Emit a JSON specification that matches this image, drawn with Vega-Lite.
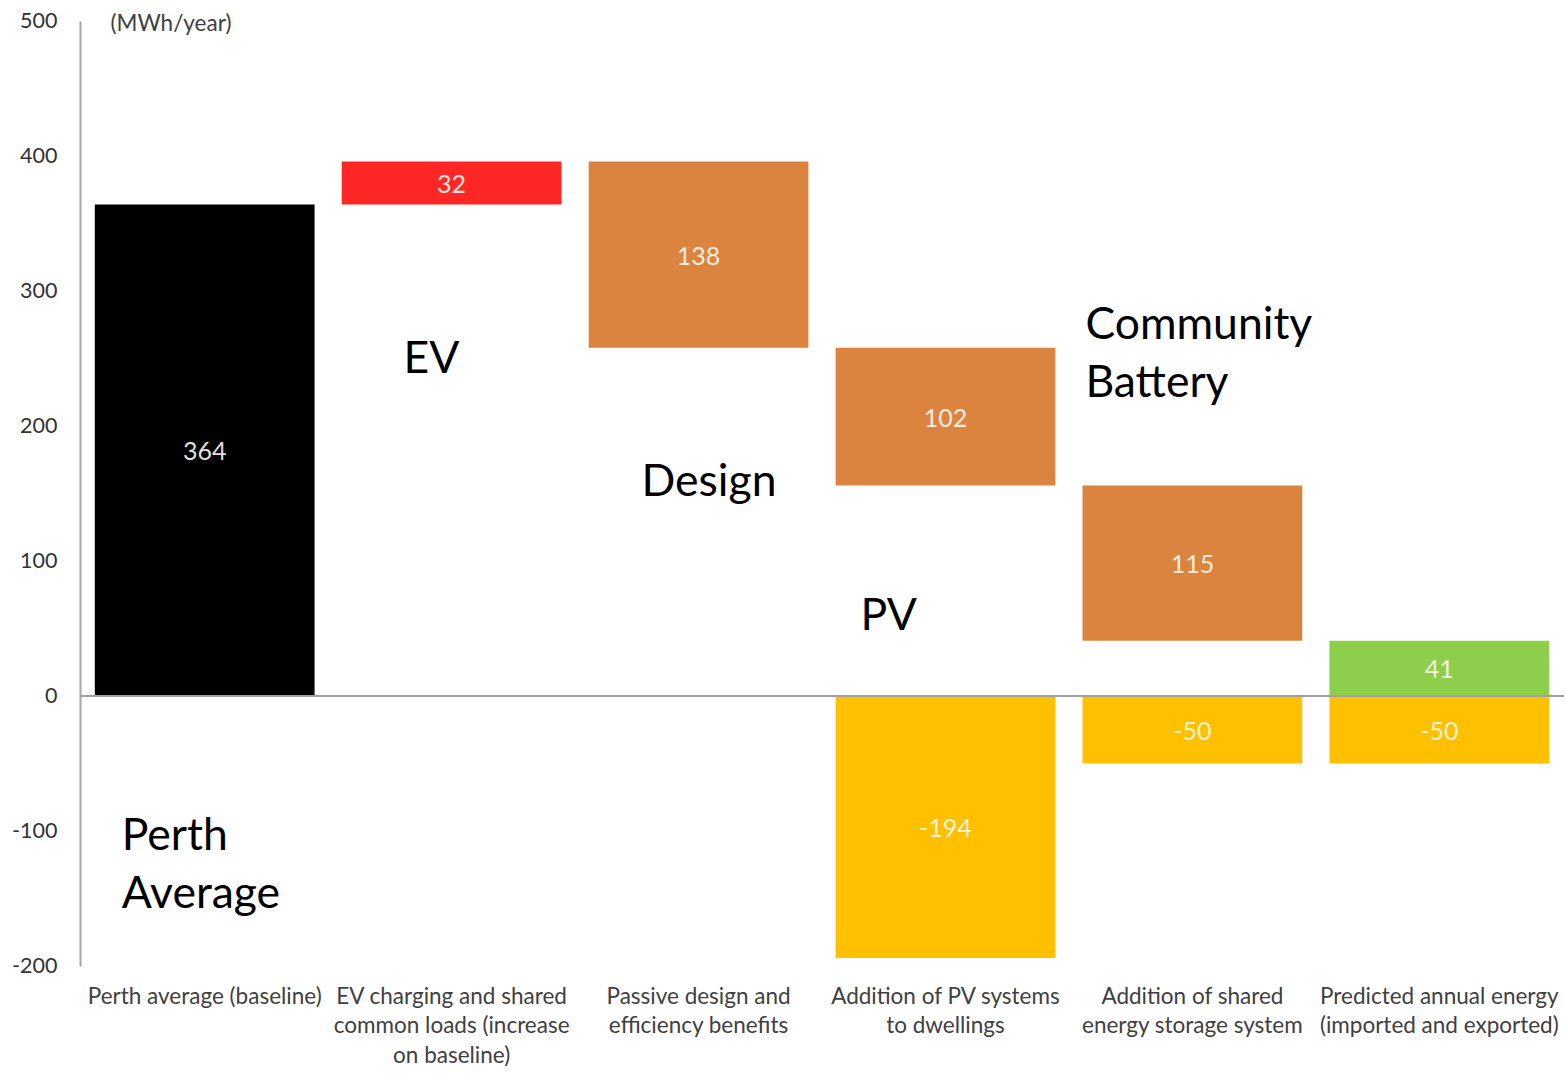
{
  "$schema": "https://vega.github.io/schema/vega-lite/v6.json",
  "width": 1484,
  "height": 945,
  "autosize": "none",
  "padding": {"left": 80, "top": 21, "right": 1, "bottom": 111},
  "background": "white",
  "config": {
    "view": {"stroke": null},
    "font": "Lato",
    "text": {"font": "Lato"}
  },
  "datasets": {
    "bars": [
      {"cat": "Perth average (baseline)", "start": 0, "end": 364, "type": "baseline", "label": "364"},
      {"cat": "EV charging and shared|common loads (increase|on baseline)", "start": 364, "end": 396, "type": "increase", "label": "32"},
      {"cat": "Passive design and|efficiency benefits", "start": 258, "end": 396, "type": "reduction", "label": "138"},
      {"cat": "Addition of PV systems|to dwellings", "start": 156, "end": 258, "type": "reduction", "label": "102"},
      {"cat": "Addition of PV systems|to dwellings", "start": -194, "end": 0, "type": "generation", "label": "-194"},
      {"cat": "Addition of shared|energy storage system", "start": 41, "end": 156, "type": "reduction", "label": "115"},
      {"cat": "Addition of shared|energy storage system", "start": -50, "end": 0, "type": "generation", "label": "-50"},
      {"cat": "Predicted annual energy|(imported and exported)", "start": 0, "end": 41, "type": "net", "label": "41"},
      {"cat": "Predicted annual energy|(imported and exported)", "start": -50, "end": 0, "type": "generation", "label": "-50"}
    ]
  },
  "encoding": {
    "x": {
      "field": "cat",
      "type": "nominal",
      "sort": null,
      "scale": {
        "domain": [
          "Perth average (baseline)",
          "EV charging and shared|common loads (increase|on baseline)",
          "Passive design and|efficiency benefits",
          "Addition of PV systems|to dwellings",
          "Addition of shared|energy storage system",
          "Predicted annual energy|(imported and exported)"
        ],
        "paddingInner": 0.11,
        "paddingOuter": 0.06
      },
      "axis": {
        "title": null,
        "labelAngle": 0,
        "labelExpr": "split(datum.label, '|')",
        "labelFontSize": 22.5,
        "labelLineHeight": 29.5,
        "labelPadding": 19,
        "labelColor": "#404040",
        "labelFont": "Lato",
        "labelLimit": 0,
        "labelBaseline": "top",
        "domain": false,
        "ticks": false
      }
    }
  },
  "layer": [
    {
      "data": {"name": "bars"},
      "mark": {"type": "bar"},
      "encoding": {
        "y": {
          "field": "start",
          "type": "quantitative",
          "scale": {"domain": [-200, 500], "nice": false},
          "axis": {
            "title": "(MWh/year)",
            "titleAngle": 0,
            "titleX": 30,
            "titleY": 2,
            "titleAlign": "left",
            "titleBaseline": "middle",
            "titleFontSize": 22.5,
            "titleFontWeight": "normal",
            "titleColor": "#404040",
            "titleFont": "Lato",
            "values": [-200, -100, 0, 100, 200, 300, 400, 500],
            "labelExpr": "'' + datum.value",
            "grid": false,
            "ticks": false,
            "domainColor": "#a6a6a6",
            "domainWidth": 2,
            "labelFontSize": 21.5,
            "labelColor": "#333333",
            "labelFont": "Lato",
            "labelPadding": 23
          }
        },
        "y2": {"field": "end"},
        "color": {
          "field": "type",
          "type": "nominal",
          "legend": null,
          "scale": {
            "domain": ["baseline", "increase", "reduction", "generation", "net"],
            "range": ["#000000", "#ff2626", "#db843f", "#ffc000", "#8dce4c"]
          }
        }
      }
    },
    {
      "data": {"name": "bars"},
      "transform": [{"calculate": "(datum.start + datum.end) / 2", "as": "mid"}],
      "mark": {"type": "text", "fontSize": 25, "fill": "#fff8ee", "opacity": 0.9, "baseline": "middle", "align": "center", "dy": 2},
      "encoding": {
        "y": {"field": "mid", "type": "quantitative"},
        "text": {"field": "label"}
      }
    },
    {
      "data": {"values": [{"v": 0}]},
      "mark": {"type": "rule", "color": "#a0a0a0", "strokeWidth": 2},
      "encoding": {
        "x": null,
        "y": {"field": "v", "type": "quantitative"}
      }
    },
    {
      "data": {"values": [{"cat": "EV charging and shared|common loads (increase|on baseline)", "y": 249, "note": "EV"}]},
      "mark": {"type": "text", "fontSize": 44.5, "align": "left", "baseline": "middle", "dx": -48, "color": "#000000"},
      "encoding": {"y": {"field": "y", "type": "quantitative"}, "text": {"field": "note"}}
    },
    {
      "data": {"values": [{"cat": "Passive design and|efficiency benefits", "y": 158, "note": "Design"}]},
      "mark": {"type": "text", "fontSize": 44.5, "align": "left", "baseline": "middle", "dx": -57, "color": "#000000"},
      "encoding": {"y": {"field": "y", "type": "quantitative"}, "text": {"field": "note"}}
    },
    {
      "data": {"values": [{"cat": "Addition of PV systems|to dwellings", "y": 58.5, "note": "PV"}]},
      "mark": {"type": "text", "fontSize": 44.5, "align": "left", "baseline": "middle", "dx": -85, "color": "#000000"},
      "encoding": {"y": {"field": "y", "type": "quantitative"}, "text": {"field": "note"}}
    },
    {
      "data": {"values": [{"cat": "Addition of shared|energy storage system", "y": 274, "note": "Community|Battery"}]},
      "mark": {"type": "text", "fontSize": 44.5, "align": "left", "baseline": "middle", "dx": -107, "lineBreak": "|", "lineHeight": 58, "color": "#000000"},
      "encoding": {"y": {"field": "y", "type": "quantitative"}, "text": {"field": "note"}}
    },
    {
      "data": {"values": [{"cat": "Perth average (baseline)", "y": -104.4, "note": "Perth|Average"}]},
      "mark": {"type": "text", "fontSize": 44.5, "align": "left", "baseline": "middle", "dx": -83, "lineBreak": "|", "lineHeight": 58, "color": "#000000"},
      "encoding": {"y": {"field": "y", "type": "quantitative"}, "text": {"field": "note"}}
    }
  ]
}
